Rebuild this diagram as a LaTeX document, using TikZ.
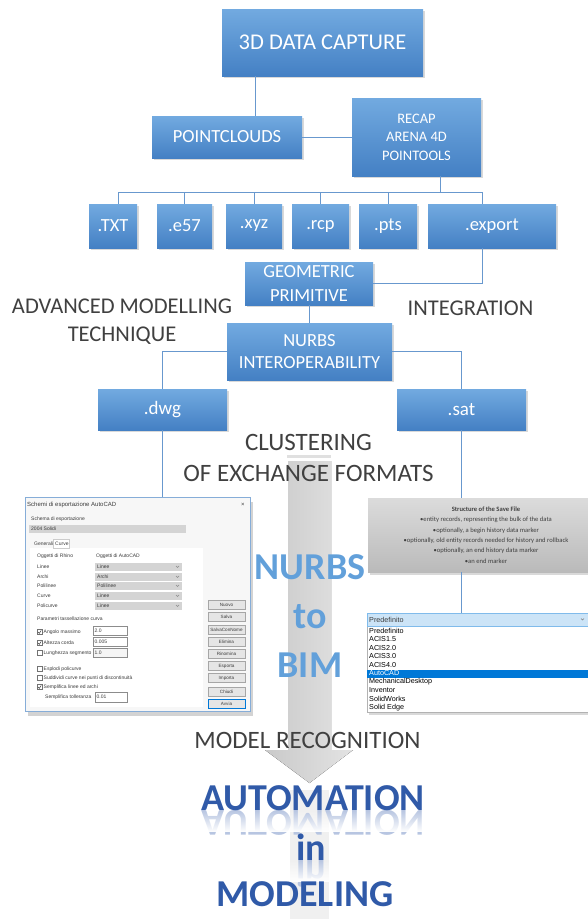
\documentclass[tikz,border=0pt]{standalone}
\usepackage{fontspec}
\setmainfont{Carlito}
\newfontfamily\uifont{Liberation Sans}
\usetikzlibrary{shadows,fadings}
\definecolor{boxtop}{RGB}{114,170,224}
\definecolor{boxbot}{RGB}{68,128,196}
\definecolor{linkc}{RGB}{104,152,206}
\definecolor{txtc}{RGB}{64,64,64}
\definecolor{nbim}{RGB}{98,160,218}
\definecolor{autoc}{RGB}{48,90,168}
\definecolor{uitxt}{RGB}{60,60,60}
\definecolor{selc}{RGB}{0,120,215}
\definecolor{hdrc}{RGB}{204,228,247}
\newcommand{\pxfont}[2]{\fontsize{#1}{#2}\selectfont}

\begin{document}
\begin{tikzpicture}[x=1pt, y=-1pt,
    blk/.style={rectangle, top color=boxtop, bottom color=boxbot, text=white, align=center, inner sep=0pt,
      drop shadow={shadow xshift=1.5pt, shadow yshift=-2pt, opacity=.3}},
    link/.style={draw=linkc, line width=.9pt},
    lbl/.style={text=txtc, align=center, inner sep=0pt},
    ui/.style={font=\uifont\pxfont{5}{6}, text=uitxt, inner sep=0pt, anchor=west},
    btn/.style={draw=black!35, fill=black!10, minimum width=37, minimum height=9, inner sep=0pt, font=\uifont\pxfont{4.6}{5}, text=uitxt},
    fld/.style={draw=black!45, fill=white},
    cmb/.style={fill=black!17},
    big/.style={font=\bfseries\pxfont{38}{40}, anchor=base, inner sep=0pt}]
\useasboundingbox (0,0) rectangle (588,919);

\fill[left color=black!21, right color=black!11] (288,461) -- (331,461) -- (331,750) -- (353,750) -- (309.5,783) -- (265,750) -- (288,750) -- cycle;
\fill[black!12] (287,455) rectangle (331,458);
\fill[black!6] (290,790) rectangle (329,919);

\node[blk, minimum width=201, minimum height=67, font=\pxfont{22.5}{26}] (cap) at (322.5,42.5) {3D DATA CAPTURE};
\node[blk, minimum width=150, minimum height=42, font=\pxfont{18.5}{22}] (pc) at (227,137) {POINTCLOUDS};
\node[blk, minimum width=129, minimum height=78, font=\pxfont{14.5}{18.5}] (recap) at (416.5,137) {RECAP\\ARENA 4D\\POINTOOLS};
\foreach \n/\t/\x/\w in {txt/.TXT/113/48, e57/.e57/184.5/55, xyz/.xyz/254/56, rcp/.rcp/320.5/57, pts/.pts/388/58, export/.export/492/128}
  \node[blk, minimum width=\w, minimum height=44, font=\pxfont{18.5}{22}] (\n) at (\x,226) {\t};

\draw[link] ([xshift=28pt]pc.north) -- ([xshift=28pt]pc.north |- cap.south);
\draw[link] (pc) -- (recap);
\coordinate (busL) at (118,192);
\coordinate (busR) at (482,192);
\draw[link] (busL) -- (busR);
\draw[link] (busL) -- (busL |- txt.north);
\foreach \n in {e57,xyz,rcp,pts} \draw[link] (\n.north) -- (\n.north |- busL);
\draw[link] (busR) -- (busR |- export.north);
\draw[link] ([xshift=23.5pt]recap.south) -- ([xshift=23.5pt]recap.south |- busL);

\node[blk, minimum width=128, minimum height=43, font=\pxfont{18.5}{24}] (geo) at (309,283.5) {GEOMETRIC\\PRIMITIVE};
\draw[link] (busR |- export.south) |- (geo);
\node[lbl, font=\pxfont{22.5}{28}] (adv) at (122,322) {ADVANCED MODELLING\\TECHNIQUE};
\node[lbl, font=\pxfont{22.5}{28}] (integ) at (470.5,308) {INTEGRATION};
\node[blk, minimum width=165, minimum height=57, font=\pxfont{18.5}{22}] (nurbs) at (309.5,351.5) {NURBS\\INTEROPERABILITY};
\draw[link] (geo.south) -- (geo.south |- nurbs.north);
\node[blk, minimum width=129, minimum height=41, font=\pxfont{19}{22}] (dwg) at (162.5,409.5) {.dwg};
\node[blk, minimum width=129, minimum height=41, font=\pxfont{19}{22}] (sat) at (461.5,409.5) {.sat};
\draw[link] (nurbs.west) -| (dwg.north);
\draw[link] (nurbs.east) -| (sat.north);
\node[lbl, font=\pxfont{25}{31}] (clu) at (308.5,457.5) {CLUSTERING\\OF EXCHANGE FORMATS};

\node[draw=linkc!80, fill=black!3, minimum width=225, minimum height=214, inner sep=0pt,
  drop shadow={shadow xshift=3pt, shadow yshift=-5pt, opacity=.35}] (dlg) at (137.5,604) {};
\draw[link] (dwg.south) -- (dwg.south |- dlg.north);
\node[ui, font=\uifont\pxfont{6}{7}] (dtitle) at (27,505) {Schemi di esportazione AutoCAD};
\node[ui, font=\uifont\pxfont{6}{7}] (dx) at (241,505) {×};
\node[ui] (dschema) at (31,519) {Schema di esportazione};
\fill[cmb] (29,525) rectangle (186,533);
\node[ui] (dsol) at (31,529) {2004 Solidi};
\fill[white] (30,548) rectangle (203,707);
\draw[black!20, fill=white] (53,539) rectangle (69,548);
\node[ui] (dgen) at (34,544) {Generali};
\node[ui] (dcur) at (55,544) {Curve};
\node[ui] (drh) at (37,556) {Oggetti di Rhino};
\node[ui] (dac) at (96,556) {Oggetti di AutoCAD};
\foreach \a/\b/\y in {Linee/Linee/567, Archi/Archi/577, Polilinee/Polilinee/586, Curve/Linee/596, Policurve/Linee/606}{
  \node[ui] (r\y) at (37,\y) {\a};
  \fill[cmb] (95,\y-4) rectangle (182,\y+4);
  \node[ui] (c\y) at (97,\y) {\b};
  \draw[black!45, line width=.4pt] (176,\y-1) -- (177.5,\y+.5) -- (179,\y-1);
}
\node[ui] (dpar) at (37,619) {Parametri tassellazione curva};
\foreach \t/\y/\c in {Angolo massimo/632/1, Altezza corda/643/1, Lunghezza segmento/653/0, Esplodi policurve/669/0, Suddividi curve nei punti di discontinuità/678/0, Semplifica linee ed archi/687/1}{
  \draw[black!55, fill=white, line width=.4pt] (37,\y-2.5) rectangle (42,\y+2.5);
  \ifnum\c=1 \draw[black!75, line width=.5pt] (38,\y) -- (39.3,\y+1.4) -- (41.2,\y-1.6); \fi
  \node[ui] (k\y) at (43.5,\y) {\t};
}
\foreach \v/\y/\g in {2.0/631/white, 0.005/642/white, 1.0/653/black!4}{
  \draw[fld, fill=\g] (93,\y-4.5) rectangle (127,\y+4.5);
  \node[ui] (f\y) at (94.5,\y) {\v};
}
\node[ui] (dtol) at (45,697) {Semplifica tolleranza};
\draw[fld] (95,692) rectangle (127,702);
\node[ui] (ftol) at (96.5,697) {0.01};
\foreach \t/\y in {Nuovo/605, Salva/617, SalvaConNome/630, Elimina/642, Rinomina/654, Esporta/666, Importa/678, Chiudi/692}
  \node[btn] (b\y) at (226.5,\y) {\t};
\node[btn, draw=selc] (b704) at (226.5,704) {Avvia};

\node[top color=black!14, bottom color=black!27, minimum width=236, minimum height=74, inner sep=0pt,
  drop shadow={shadow xshift=2pt, shadow yshift=-3pt, opacity=.3}, align=center, font=\pxfont{6.6}{10.4}, text=black!75] (save) at (486,535)
  {{\bfseries Structure of the Save File}\\•entity records, representing the bulk of the data\\•optionally, a begin history data marker\\•optionally, old entity records needed for history and rollback\\•optionally, an end history data marker\\•an end marker};
\draw[link] (sat.south) -- (sat.south |- save.north);

\node[draw=black!30, fill=white, minimum width=236, minimum height=99, inner sep=0pt,
  drop shadow={shadow xshift=2pt, shadow yshift=-3pt, opacity=.3}] (lst) at (485,662.5) {};
\draw[link] (save.south -| sat.south) -- (lst.north -| sat.south);
\draw[selc!50, fill=hdrc] (367,613) rectangle (603,626);
\node[ui, font=\uifont\pxfont{7.2}{8}] (lhd) at (369,619.5) {Predefinito};
\draw[black!50, line width=.4pt] (581,618.5) -- (582.5,620) -- (584,618.5);
\fill[selc] (367,669.5) rectangle (603,677.5);
\foreach \t/\c [count=\i from 0] in {Predefinito/black, ACIS1.5/black, ACIS2.0/black, ACIS3.0/black, ACIS4.0/black, AutoCAD/white, MechanicalDesktop/black, Inventor/black, SolidWorks/black, Solid Edge/black}
  \node[ui, font=\uifont\pxfont{7.2}{8}, text=\c] (li\i) at (369,631+8.5*\i) {\t};

\foreach \t/\y in {NURBS/579, to/628, BIM/677}
  \node[big, text=nbim] (nb\y) at (310,\y) {\t};
\node[lbl, font=\pxfont{25}{30}, anchor=base] (mrec) at (307.5,748) {MODEL RECOGNITION};
\foreach \t/\x/\y in {AUTOMATION/313/810, in/311.5/860}{
  \node[big, text=autoc!35, yscale=-1, transform shape] (rf\y) at (\x,\y) {\t};
  \fill[white, path fading=north] (180,\y) rectangle (440,\y+22);
}
\foreach \t/\x/\y in {AUTOMATION/313/810, in/311.5/860, MODELING/305/906}
  \node[big, text=autoc] (am\y) at (\x,\y) {\t};
\end{tikzpicture}
\end{document}
